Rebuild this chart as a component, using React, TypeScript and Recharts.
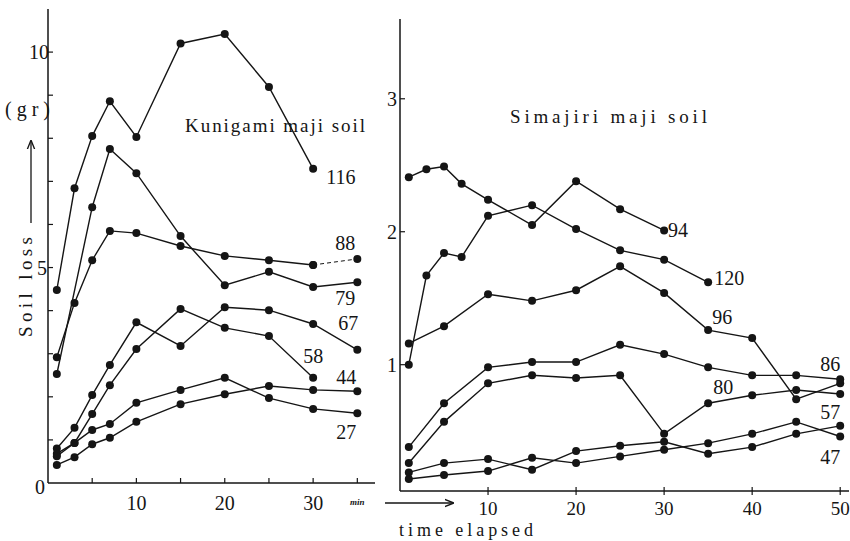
import React from 'react';
import { LineChart, Line, XAxis, YAxis } from 'recharts';

// ---------- Kunigami maji soil (left panel) ----------
const leftTimes = [1, 3, 5, 7, 10, 15, 20, 25, 30, 35];
const kuni116 = [4.48, 6.84, 8.05, 8.86, 8.03, 10.2, 10.42, 9.19, 7.29, null];
const kuni88 = [2.92, 4.18, 5.17, 5.85, 5.8, 5.5, 5.27, 5.17, 5.06, null];
const kuni88Tail = [null, null, null, null, null, null, null, null, 5.06, 5.2];
const kuni79 = [2.53, null, 6.4, 7.75, 7.19, 5.73, 4.59, 4.9, 4.55, 4.66];
const kuni67 = [0.8, 1.28, 2.04, 2.74, 3.73, 3.18, 4.08, 4.01, 3.69, 3.09];
const kuni58 = [0.68, 0.93, 1.6, 2.27, 3.11, 4.04, 3.6, 3.41, 2.44, null];
const kuni44 = [0.42, 0.6, 0.9, 1.05, 1.42, 1.83, 2.06, 2.25, 2.16, 2.13];
const kuni27 = [0.62, 0.93, 1.23, 1.37, 1.86, 2.16, 2.44, 1.97, 1.72, 1.62];
const leftYTicks = [0, 1, 2, 3, 4, 5, 6, 7, 8, 9, 10];
const leftXTicks = [5, 10, 15, 20, 25, 30, 35];

// ---------- Simajiri maji soil (right panel) ----------
const rightTimes = [1, 3, 5, 7, 10, 15, 20, 25, 30, 35, 40, 45, 50];
const sima94 = [2.41, 2.47, 2.49, 2.36, 2.24, 2.05, 2.38, 2.17, 2.01, null, null, null, null];
const sima120 = [1.0, 1.67, 1.84, 1.81, 2.12, 2.2, 2.02, 1.86, 1.79, 1.62, null, null, null];
const sima96 = [1.16, null, 1.29, null, 1.53, 1.48, 1.56, 1.74, 1.54, 1.26, 1.2, 0.74, 0.86];
const sima86 = [0.38, null, 0.71, null, 0.98, 1.02, 1.02, 1.15, 1.08, 0.98, 0.92, 0.92, 0.89];
const sima80 = [0.26, null, 0.57, null, 0.86, 0.92, 0.9, 0.92, 0.48, 0.71, 0.77, 0.81, 0.78];
const sima57 = [0.19, null, 0.26, null, 0.29, 0.21, 0.35, 0.39, 0.42, 0.33, 0.38, 0.48, 0.54];
const sima47 = [0.14, null, 0.17, null, 0.2, 0.3, 0.26, 0.31, 0.36, 0.41, 0.48, 0.57, 0.46];
const rightYTicks = [1, 2, 3];
const rightXTicks = [10, 20, 30, 40, 50];

const leftData = leftTimes.map((t, i) => ({
  t,
  k116: kuni116[i],
  k88: kuni88[i],
  k88t: kuni88Tail[i],
  k79: kuni79[i],
  k67: kuni67[i],
  k58: kuni58[i],
  k44: kuni44[i],
  k27: kuni27[i],
}));

const rightData = rightTimes.map((t, i) => ({
  t,
  s94: sima94[i],
  s120: sima120[i],
  s96: sima96[i],
  s86: sima86[i],
  s80: sima80[i],
  s57: sima57[i],
  s47: sima47[i],
}));

const INK = '#151515';
const FONT = '"Liberation Serif", "DejaVu Serif", serif';

type LabelCfg = { text: string; index: number; dx: number; dy: number } | null;

const makeDot = (cfg: LabelCfg) => (props: any) => {
  const { cx, cy, index } = props;
  if (cx == null || cy == null || isNaN(cx) || isNaN(cy)) return <g key={`d${index}`} />;
  return (
    <g key={`d${index}`}>
      <circle cx={cx} cy={cy} r={4} fill={INK} stroke="none" />
      {cfg && cfg.index === index ? (
        <text
          x={cx + cfg.dx}
          y={cy + cfg.dy}
          fontSize={20}
          fill={INK}
          textAnchor="start"
          dominantBaseline="central"
          style={{ fontFamily: FONT }}
        >
          {cfg.text}
        </text>
      ) : null}
    </g>
  );
};

const LeftYTick = (props: any) => {
  const { x, y, payload } = props;
  const v = payload.value;
  return (
    <g>
      {v > 0 ? <line x1={x} x2={x + 5} y1={y} y2={y} stroke={INK} strokeWidth={1.2} /> : null}
      {v % 5 === 0 ? (
        <text x={x - 3 + v * 0.4} y={v === 0 ? y + 4 : y} textAnchor="end" dominantBaseline="central" fontSize={20} fill={INK} style={{ fontFamily: FONT }}>
          {v}
        </text>
      ) : null}
    </g>
  );
};

const LeftXTick = (props: any) => {
  const { x, y, payload } = props;
  const v = payload.value;
  return (
    <g>
      <line x1={x} x2={x} y1={y} y2={y - 5} stroke={INK} strokeWidth={1.2} />
      {v % 10 === 0 ? (
        <text x={x} y={y + 20} textAnchor="middle" dominantBaseline="central" fontSize={20} fill={INK} style={{ fontFamily: FONT }}>
          {v}
        </text>
      ) : null}
      {v === 35 ? (
        <text x={x} y={y + 19} textAnchor="middle" dominantBaseline="central" fontSize={9} fontWeight="bold" fontStyle="italic" fill={INK} style={{ fontFamily: FONT }}>
          min
        </text>
      ) : null}
    </g>
  );
};

const RightYTick = (props: any) => {
  const { x, y, payload } = props;
  const v = payload.value;
  return (
    <g>
      <line x1={x} x2={x + 5} y1={y} y2={y} stroke={INK} strokeWidth={1.2} />
      <text x={x - 3} y={y} textAnchor="end" dominantBaseline="central" fontSize={20} fill={INK} style={{ fontFamily: FONT }}>
        {v}
      </text>
    </g>
  );
};

const RightXTick = (props: any) => {
  const { x, y, payload } = props;
  const v = payload.value;
  return (
    <g>
      <line x1={x} x2={x} y1={y - 4} y2={y + 4} stroke={INK} strokeWidth={1.2} />
      <text x={x} y={y + 17} textAnchor="middle" dominantBaseline="central" fontSize={19} fill={INK} style={{ fontFamily: FONT }}>
        {v}
      </text>
    </g>
  );
};

const lineProps = {
  type: 'linear' as const,
  stroke: INK,
  strokeWidth: 1.4,
  isAnimationActive: false,
  connectNulls: true,
  activeDot: false as const,
};

export default function App() {
  return (
    <div style={{ position: 'absolute', left: 0, top: 0, width: 850, height: 541, background: '#fff', fontFamily: FONT }}>
      <div style={{ position: 'absolute', left: 0, top: 0 }}>
        <LineChart width={400} height={541} data={leftData} margin={{ top: 9, right: 25, bottom: 0, left: 0 }}>
          <XAxis
            type="number"
            dataKey="t"
            domain={[0, 37]}
            ticks={leftXTicks}
            interval={0}
            height={58}
            tickSize={0}
            tickMargin={0}
            tickLine={false}
            tick={LeftXTick}
            axisLine={{ stroke: INK, strokeWidth: 1.5 }}
            allowDataOverflow
          />
          <YAxis
            type="number"
            domain={[0, 11]}
            ticks={leftYTicks}
            interval={0}
            width={48}
            tickSize={0}
            tickMargin={0}
            tickLine={false}
            tick={LeftYTick}
            axisLine={{ stroke: INK, strokeWidth: 1.5 }}
            allowDataOverflow
          />
          <Line {...lineProps} dataKey="k116" dot={makeDot({ text: '116', index: 8, dx: 13, dy: 8 })} />
          <Line {...lineProps} dataKey="k88" dot={makeDot(null)} />
          <Line {...lineProps} dataKey="k88t" strokeWidth={1} strokeDasharray="4 3" dot={makeDot({ text: '88', index: 9, dx: -22, dy: -16 })} />
          <Line {...lineProps} dataKey="k79" dot={makeDot({ text: '79', index: 9, dx: -22, dy: 16 })} />
          <Line {...lineProps} dataKey="k67" dot={makeDot({ text: '67', index: 9, dx: -19, dy: -27 })} />
          <Line {...lineProps} dataKey="k58" dot={makeDot({ text: '58', index: 8, dx: -10, dy: -22 })} />
          <Line {...lineProps} dataKey="k44" dot={makeDot({ text: '44', index: 9, dx: -21, dy: -14 })} />
          <Line {...lineProps} dataKey="k27" dot={makeDot({ text: '27', index: 9, dx: -21, dy: 19 })} />
        </LineChart>
      </div>
      <div style={{ position: 'absolute', left: 350, top: 0 }}>
        <LineChart width={500} height={541} data={rightData} margin={{ top: 19, right: 1, bottom: 0, left: 0 }}>
          <XAxis
            type="number"
            dataKey="t"
            domain={[0, 51]}
            ticks={rightXTicks}
            interval={0}
            height={50}
            tickSize={0}
            tickMargin={0}
            tickLine={false}
            tick={RightXTick}
            axisLine={{ stroke: INK, strokeWidth: 1.5 }}
            allowDataOverflow
          />
          <YAxis
            type="number"
            domain={[0.05, 3.6]}
            ticks={rightYTicks}
            interval={0}
            width={50}
            tickSize={0}
            tickMargin={0}
            tickLine={false}
            tick={RightYTick}
            axisLine={{ stroke: INK, strokeWidth: 1.5 }}
            allowDataOverflow
          />
          <Line {...lineProps} dataKey="s94" dot={makeDot({ text: '94', index: 8, dx: 4, dy: 0 })} />
          <Line {...lineProps} dataKey="s120" dot={makeDot({ text: '120', index: 9, dx: 6, dy: -4 })} />
          <Line {...lineProps} dataKey="s96" dot={makeDot({ text: '96', index: 9, dx: 4, dy: -13 })} />
          <Line {...lineProps} dataKey="s86" dot={makeDot({ text: '86', index: 12, dx: -20, dy: -15 })} />
          <Line {...lineProps} dataKey="s80" dot={makeDot({ text: '80', index: 9, dx: 5, dy: -16 })} />
          <Line {...lineProps} dataKey="s57" dot={makeDot({ text: '57', index: 12, dx: -20, dy: -14 })} />
          <Line {...lineProps} dataKey="s47" dot={makeDot({ text: '47', index: 12, dx: -20, dy: 21 })} />
        </LineChart>
      </div>
      <svg width={850} height={541} style={{ position: 'absolute', left: 0, top: 0, pointerEvents: 'none' }}>
        <defs>
          <marker id="ah" viewBox="0 0 10 10" refX="9" refY="5" markerWidth="7" markerHeight="7" orient="auto">
            <path d="M0,1 L10,5 L0,9" fill="none" stroke={INK} strokeWidth={1.5} />
          </marker>
        </defs>
        <text x={185} y={125} fontSize={19} fill={INK} dominantBaseline="central" textLength={180} lengthAdjust="spacing" style={{ fontFamily: FONT }}>
          Kunigami maji soil
        </text>
        <text x={510} y={116} fontSize={19} fill={INK} dominantBaseline="central" textLength={197} lengthAdjust="spacing" style={{ fontFamily: FONT }}>
          Simajiri maji soil
        </text>
        <text x={5} y={109} fontSize={20} fill={INK} dominantBaseline="central" textLength={45} lengthAdjust="spacing" style={{ fontFamily: FONT }}>
          (gr)
        </text>
        <line x1={31} y1={223} x2={31} y2={141} stroke={INK} strokeWidth={1.3} markerEnd="url(#ah)" />
        <text
          x={25}
          y={287}
          fontSize={19}
          fill={INK}
          textAnchor="middle"
          dominantBaseline="central"
          textLength={100}
          lengthAdjust="spacing"
          transform="rotate(-90 25 287)"
          style={{ fontFamily: FONT }}
        >
          Soil loss
        </text>
        <line x1={385} y1={503} x2={453} y2={503} stroke={INK} strokeWidth={1.3} markerEnd="url(#ah)" />
        <text x={399} y={530} fontSize={18} fill={INK} dominantBaseline="central" textLength={134} lengthAdjust="spacing" style={{ fontFamily: FONT }}>
          time elapsed
        </text>
      </svg>
    </div>
  );
}
